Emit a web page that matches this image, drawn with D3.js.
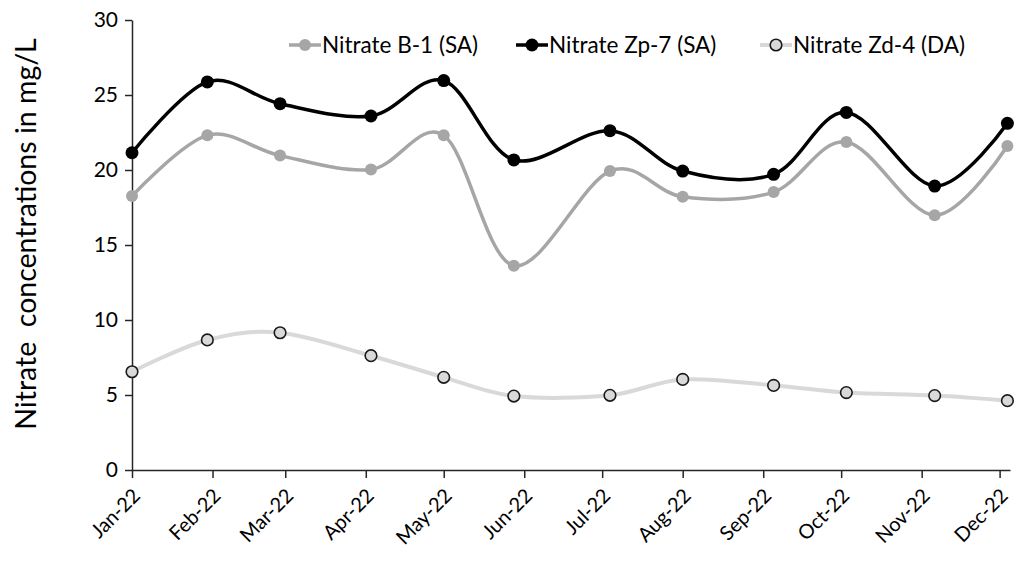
<!DOCTYPE html>
<html><head><meta charset="utf-8">
<script src="https://cdn.jsdelivr.net/npm/d3@7"></script>
<style>body{margin:0;background:#fff;} svg{display:block;} text{font-family:Lato,"Liberation Sans",sans-serif;}</style>
</head><body>
<svg id="c" width="1018" height="561"></svg>
<script>
// sampling dates (one per month)
const sampleDates = ["2022-01-01","2022-01-30","2022-02-27","2022-04-03","2022-05-01","2022-05-28","2022-07-04","2022-08-01","2022-09-05","2022-10-03","2022-11-06","2022-12-04"];
const tickLabels = ["Jan-22","Feb-22","Mar-22","Apr-22","May-22","Jun-22","Jul-22","Aug-22","Sep-22","Oct-22","Nov-22","Dec-22"];
const seriesNames = ["Nitrate B-1 (SA)","Nitrate Zp-7 (SA)","Nitrate Zd-4 (DA)"];
const nitrateB1 = [18.27,22.31,20.96,20.04,22.31,13.62,19.93,18.22,18.53,21.87,16.98,21.6];
const nitrateZp7 = [21.15,25.87,24.42,23.6,25.96,20.67,22.62,19.93,19.71,23.84,18.93,23.11];
const nitrateZd4 = [6.55,8.67,9.15,7.62,6.18,4.93,4.98,6.04,5.64,5.16,4.96,4.62];
const yTicks = [0,5,10,15,20,25,30];

const svg = d3.select("#c");
const parse = d3.utcParse("%Y-%m-%d");
const dates = sampleDates.map(parse);
const x = d3.scaleUtc().domain([parse("2022-01-01"), parse("2022-12-05")]).range([132, 1010]);
const y = d3.scaleLinear().domain([0,30]).range([470,20]);

// axes
const axisColor = "#262626";
const yAxis = svg.append("g").attr("transform","translate(132,0)")
  .call(d3.axisLeft(y).tickValues(yTicks).tickSize(7).tickPadding(7).tickSizeOuter(0));
yAxis.select(".domain").attr("stroke",axisColor).attr("stroke-width",1.5);
yAxis.selectAll(".tick line").attr("stroke",axisColor).attr("stroke-width",1.5);
yAxis.selectAll("text").attr("font-size",21).attr("fill","#000").style("font-family","Lato,sans-serif");

const monthTicks = d3.range(12).map(m => new Date(Date.UTC(2022,m,1)));
const xAxis = svg.append("g").attr("transform","translate(0,470)")
  .call(d3.axisBottom(x).tickValues(monthTicks).tickSize(8).tickSizeOuter(0).tickFormat((d,i)=>tickLabels[i]));
xAxis.select(".domain").attr("stroke",axisColor).attr("stroke-width",1.5);
xAxis.selectAll(".tick line").attr("stroke",axisColor).attr("stroke-width",1.5);
xAxis.selectAll("text").attr("font-size",20).attr("fill","#000").style("font-family","Lato,sans-serif")
  .attr("text-anchor","end").attr("dy",0).attr("y",0)
  .attr("transform","translate(9,27) rotate(-45)");

// y title
svg.append("text").attr("transform","translate(36,234) rotate(-90)")
  .attr("text-anchor","middle").attr("font-size",28.5).attr("fill","#000")
  .style("white-space","pre").text("Nitrate  concentrations in mg/L");

const line = d3.line().x((d,i)=>x(dates[i])).y(d=>y(d)).curve(d3.curveCardinal.tension(0));

const series = [
  {name:seriesNames[0], vals:nitrateB1, color:"#A6A6A6", fill:"#A6A6A6", stroke:"none", width:3.5, r:6},
  {name:seriesNames[1], vals:nitrateZp7, color:"#000000", fill:"#000000", stroke:"none", width:3.5, r:6.5},
  {name:seriesNames[2], vals:nitrateZd4, color:"#D9D9D9", fill:"#D9D9D9", stroke:"#1a1a1a", width:4, r:5.8}
];
// draw in order: light first so dark ones on top
[series[2], series[0], series[1]].forEach(s=>{
  const g = svg.append("g");
  g.append("path").datum(s.vals).attr("d",line).attr("fill","none").attr("stroke",s.color).attr("stroke-width",s.width);
  g.selectAll("circle").data(s.vals).join("circle")
    .attr("cx",(d,i)=>x(dates[i])).attr("cy",d=>y(d)).attr("r",s.r)
    .attr("fill",s.fill).attr("stroke",s.stroke).attr("stroke-width",1.6);
});

// legend
const legX = [289, 516, 760];
series.forEach((s,i)=>{
  const g = svg.append("g").attr("transform",`translate(${legX[i]},45)`);
  g.append("line").attr("x1",0).attr("x2",32).attr("stroke",s.color).attr("stroke-width",s.width);
  g.append("circle").attr("cx",16).attr("cy",0).attr("r",s.r).attr("fill",s.fill).attr("stroke",s.stroke).attr("stroke-width",1.6);
  g.append("text").attr("x",33).attr("y",8).attr("font-size",22.5).attr("fill","#000").text(s.name);
});
</script>
</body></html>
